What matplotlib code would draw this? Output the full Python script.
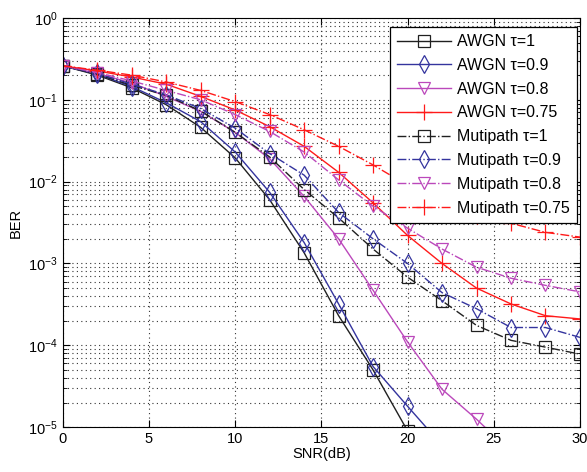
'''
BER vs SNR, AWGN and multipath channels for several tau
'''

import numpy as np
import matplotlib
matplotlib.use('Agg')
import matplotlib.pyplot as plt
from matplotlib.ticker import LogLocator, NullFormatter

plt.rcParams['font.family'] = ['Liberation Sans', 'DejaVu Sans']

snr = [0, 2, 4, 6, 8, 10, 12, 14, 16, 18, 20, 22, 24, 26, 28, 30]

#AWGN curves (run off the bottom of the plot)
awgn_1 = [0.26, 0.20, 0.14, 0.087, 0.046, 0.0195, 0.006, 0.00135, 0.00023, 5.0e-5, 9.0e-6, 1.5e-6]
awgn_09 = [0.26, 0.205, 0.145, 0.092, 0.054, 0.023, 0.0074, 0.0018, 0.00032, 5.5e-5, 1.8e-5, 6e-6]
awgn_08 = [0.26, 0.21, 0.16, 0.11, 0.072, 0.04, 0.019, 0.0066, 0.002, 0.00047, 0.00011, 2.9e-5, 1.25e-5, 5e-6]
awgn_075 = [0.26, 0.225, 0.19, 0.155, 0.11, 0.075, 0.047, 0.027, 0.013, 0.0055, 0.0022, 0.001, 0.0005, 0.00032, 0.00023, 0.00021]

#multipath curves
mp_1 = [0.26, 0.205, 0.15, 0.113, 0.073, 0.04, 0.02, 0.008, 0.0036, 0.0015, 0.00068, 0.00035, 0.000175, 0.000115, 9.5e-5, 7.8e-5]
mp_09 = [0.26, 0.21, 0.155, 0.115, 0.078, 0.045, 0.022, 0.012, 0.0042, 0.002, 0.001, 0.00044, 0.00028, 0.000165, 0.000165, 0.000125]
mp_08 = [0.26, 0.215, 0.17, 0.13, 0.1, 0.066, 0.041, 0.023, 0.0105, 0.005, 0.0027, 0.0015, 0.0009, 0.00066, 0.00054, 0.00045]
mp_075 = [0.26, 0.23, 0.2, 0.165, 0.13, 0.095, 0.066, 0.043, 0.027, 0.016, 0.009, 0.0055, 0.0038, 0.0031, 0.0024, 0.0021]

labels = ['AWGN \u03c4=1', 'AWGN \u03c4=0.9', 'AWGN \u03c4=0.8', 'AWGN \u03c4=0.75',
          'Mutipath \u03c4=1', 'Mutipath \u03c4=0.9', 'Mutipath \u03c4=0.8', 'Mutipath \u03c4=0.75']

black = '#202020'
blue = '#34349e'
mag = '#bb48bb'
red = '#ff1a1a'

fig = plt.figure(figsize=(5.87, 4.72), dpi=100)
ax = fig.add_axes([0.107, 0.095, 0.881, 0.867])

series = [
    (awgn_1, black, 's', '-'),
    (awgn_09, blue, 'd', '-'),
    (awgn_08, mag, 'v', '-'),
    (awgn_075, red, '+', '-'),
    (mp_1, black, 's', '-.'),
    (mp_09, blue, 'd', '-.'),
    (mp_08, mag, 'v', '-.'),
    (mp_075, red, '+', '-.'),
]

for (vals, col, mk, ls), lab in zip(series, labels):
    x = snr[:len(vals)]
    ms = {'+': 11, 's': 8, 'd': 9, 'v': 8}[mk]
    ax.semilogy(x, vals, color=col, ls=ls, lw=1.0, marker=mk, ms=ms,
                mfc='none', mec=col, mew=0.9, label=lab)

ax.set_xlim(0, 30)
ax.set_ylim(1e-5, 1)
ax.set_xticks([0, 5, 10, 15, 20, 25, 30])
ax.yaxis.set_major_locator(LogLocator(base=10, numticks=10))
ax.yaxis.set_minor_locator(LogLocator(base=10, subs=np.arange(2, 10), numticks=20))
ax.yaxis.set_minor_formatter(NullFormatter())

dots = (0, (1, 3))
ax.grid(True, which='major', ls=dots, color='#333333', lw=0.8)
ax.grid(True, which='minor', axis='y', ls=dots, color='#333333', lw=0.8)
ax.tick_params(which='both', direction='in', top=True, right=True, labelsize=10.5)
ax.tick_params(which='major', length=5)
ax.tick_params(which='minor', length=3)

ax.set_xlabel('SNR(dB)', fontsize=10.5, labelpad=1)
ax.set_ylabel('BER', fontsize=10.5, labelpad=4)

leg = ax.legend(loc='upper right', bbox_to_anchor=(0.995, 0.978), fontsize=11.5,
                fancybox=False, framealpha=1, edgecolor='black', borderaxespad=0,
                handlelength=3.4, labelspacing=0.55, borderpad=0.45, handletextpad=0.4)
leg.get_frame().set_linewidth(0.9)

plt.savefig('out.png', dpi=100)
